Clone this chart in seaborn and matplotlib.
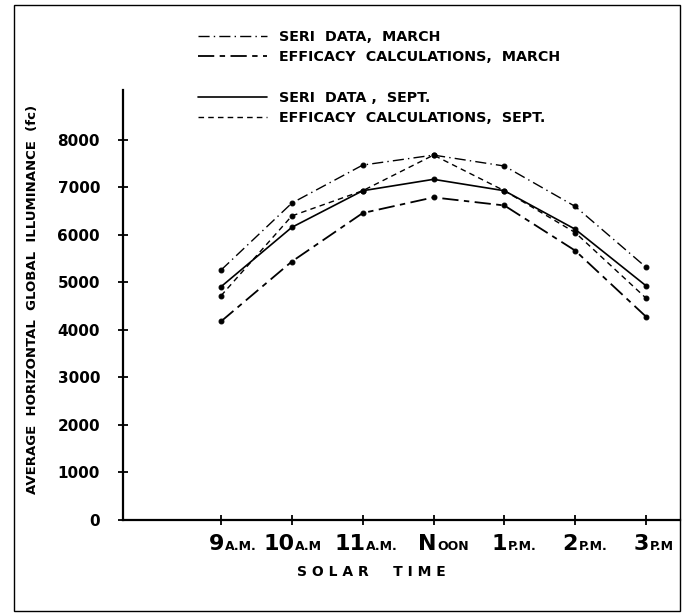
import numpy as np
import pandas as pd
import seaborn as sns
import matplotlib.pyplot as plt
from matplotlib.lines import Line2D
from matplotlib.patches import Rectangle

# Data (illuminance in fc)
hours = ["9AM", "10AM", "11AM", "NOON", "1PM", "2PM", "3PM"]
hour_big = ["9", "10", "11", "N", "1", "2", "3"]
hour_small = ["A.M.", "A.M", "A.M.", "OON", "P.M.", "P.M.", "P.M"]

seri_march = [5260, 6670, 7470, 7680, 7450, 6600, 5320]
eff_march = [4180, 5440, 6460, 6790, 6620, 5670, 4280]
seri_sept = [4910, 6160, 6930, 7170, 6930, 6120, 4930]
eff_sept = [4720, 6400, 6930, 7680, 6930, 6050, 4670]

labels = ["SERI  DATA,  MARCH", "EFFICACY  CALCULATIONS,  MARCH",
          "SERI  DATA ,  SEPT.", "EFFICACY  CALCULATIONS,  SEPT."]
yticks = [0, 1000, 2000, 3000, 4000, 5000, 6000, 7000, 8000]

# long-form table for seaborn
df = pd.concat([
    pd.DataFrame({"time": hours, "fc": vals, "series": lab})
    for vals, lab in zip([seri_march, eff_march, seri_sept, eff_sept], labels)
])

sns.set_style("white")
plt.rcParams["font.family"] = ["DejaVu Sans"]
plt.rcParams["font.weight"] = "bold"
plt.rcParams["text.color"] = "black"
plt.rcParams["xtick.color"] = "black"
plt.rcParams["ytick.color"] = "black"

dash_map = {labels[0]: (8, 3, 1, 3), labels[1]: (9, 3, 3, 3),
            labels[2]: "", labels[3]: (4, 3)}
lw_map = {labels[0]: 1.0, labels[1]: 1.3, labels[2]: 1.2, labels[3]: 1.0}

fig = plt.figure(figsize=(6.87, 6.14), dpi=100)
ax = fig.add_axes([123 / 687, 94 / 614, 557 / 687, 430 / 614])

sns.lineplot(data=df, x="time", y="fc", style="series", dashes=dash_map,
             markers={l: "o" for l in labels}, markersize=3.5, color="black",
             markeredgecolor="black", linewidth=1.1, legend=False, ax=ax, sort=False)
for line, lab in zip(ax.get_lines(), labels):
    line.set_linewidth(lw_map[lab])

ax.set_xlim(-1.384, 6.48)
ax.set_ylim(0, 9050)
ax.set_yticks(yticks)
ax.set_yticklabels([str(v) for v in yticks], fontsize=11, fontweight="bold", color="black")
ax.set_xticks(range(len(hours)))
ax.set_xticklabels([""] * len(hours))
ax.set_xlabel("")
ax.set_ylabel("")
ax.tick_params(axis="both", direction="inout", length=7, width=1.3, color="black",
               bottom=True, left=True)
ax.tick_params(axis="y", pad=13)
sns.despine(ax=ax)
for s in ["left", "bottom"]:
    ax.spines[s].set_linewidth(1.6)
    ax.spines[s].set_color("black")

# x labels: big numeral + small suffix
for i, (big, small) in enumerate(zip(hour_big, hour_small)):
    ax.annotate(big, xy=(i, 0), xycoords=("data", "axes fraction"),
                xytext=(2, -21.5), textcoords="offset points",
                ha="right", va="baseline", fontsize=16, fontweight="bold")
    ax.annotate(small, xy=(i, 0), xycoords=("data", "axes fraction"),
                xytext=(2.5, -21.5), textcoords="offset points",
                ha="left", va="baseline", fontsize=9, fontweight="bold")

fig.text(371 / 687, 1 - 572 / 614, "S O L A R     T I M E", ha="center", va="center",
         fontsize=10, fontweight="bold")
fig.text(33 / 687, 1 - 299 / 614, "AVERAGE  HORIZONTAL  GLOBAL  ILLUMINANCE  (fc)",
         rotation=90, ha="center", va="center", fontsize=9.5, fontweight="bold")

# legend in two groups
handles = [Line2D([], [], color="black", lw=lw_map[labels[0]], dashes=dash_map[labels[0]]),
           Line2D([], [], color="black", lw=lw_map[labels[1]], dashes=dash_map[labels[1]]),
           Line2D([], [], color="black", lw=lw_map[labels[2]], ls="-"),
           Line2D([], [], color="black", lw=lw_map[labels[3]], dashes=dash_map[labels[3]])]
kw = dict(frameon=False, loc="upper left", handlelength=4.8, handletextpad=0.85,
          labelspacing=0.45, borderpad=0, borderaxespad=0,
          prop={"weight": "bold", "size": 10.3})
leg1 = fig.legend(handles[:2], labels[:2], bbox_to_anchor=(198 / 687, 1 - 30 / 614), **kw)
leg2 = fig.legend(handles[2:], labels[2:], bbox_to_anchor=(198 / 687, 1 - 91 / 614), **kw)

# outer frame of the scanned figure
fig.patches.append(Rectangle((14 / 687, 3 / 614), 666 / 687, 606 / 614,
                             transform=fig.transFigure, fill=False,
                             edgecolor="black", lw=1.0))

fig.savefig("out.png", dpi=100)
